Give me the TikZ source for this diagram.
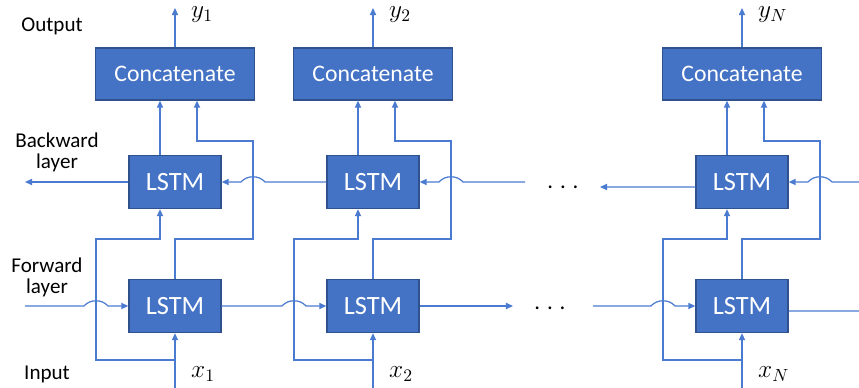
\documentclass[tikz,border=0pt]{standalone}
\usepackage{fontspec}
\setmainfont{Carlito}
\usetikzlibrary{positioning, arrows.meta}

\definecolor{boxblue}{HTML}{4472C4}
\definecolor{boxedge}{HTML}{2F528F}
\definecolor{wireblue}{HTML}{4A7BD0}

\tikzset{
  cell/.style={draw=boxedge, fill=boxblue, text=white, line width=0.8pt, inner sep=0pt},
  lstm/.style={cell, minimum width=1.84cm, minimum height=1.06cm, font=\fontsize{15}{15}\selectfont},
  concat/.style={cell, minimum width=3.18cm, minimum height=1.04cm, font=\fontsize{13.5}{13.5}\selectfont},
  wire/.style={draw=wireblue, line width=0.7pt},
  feed/.style={wire, -{Triangle[length=4pt,width=3.5pt]}},
  lbl/.style={font=\fontsize{12}{12}\selectfont, align=center},
  var/.style={font=\fontsize{14}{14}\selectfont, anchor=west},
}
% small bump where a wire jumps over a vertical one
\newcommand{\hopright}[1]{-- ([xshift=-0.24cm]#1) .. controls +(6,-7) and +(-6,-7) .. ([xshift=0.24cm]#1)}
\newcommand{\hopleft}[1]{-- ([xshift=0.24cm]#1) .. controls +(-6,-7) and +(6,-7) .. ([xshift=-0.24cm]#1)}

\begin{document}
\begin{tikzpicture}[x=0.02cm, y=-0.02cm]
  \useasboundingbox (0,0) rectangle (859,388);

  % row names
  \node[lbl] (outlbl) at (52,26) {Output};
  \node[lbl] (bwlbl) at (57,152) {Backward\\layer};
  \node[lbl] (fwlbl) at (47,277) {Forward\\layer};
  \node[lbl] (inlbl) at (47,374) {Input};

  % one column per time step
  \foreach \i/\cx/\sub in {1/175/1, 2/373/2, 3/742/N} {
    \node[concat] (cat\i) at (\cx,74) {Concatenate};
    \node[lstm] (bw\i) at (\cx,182) {LSTM};
    \node[lstm] (fw\i) at (\cx,306) {LSTM};
    \coordinate (x\i) at (\cx,388);
    \coordinate (sp\i) at (\cx,360);
    \coordinate (y\i) at (\cx,8);
    \coordinate (lb\i) at (\cx-79,360);
    \coordinate (lt\i) at (\cx-79,239);
    \coordinate (rb\i) at (\cx+78,239);
    \coordinate (rt\i) at (\cx+78,141);
    \draw[feed] (x\i) -- (fw\i.south);
    \draw[feed] (sp\i) -- (lb\i) -- (lt\i) -| ([xshift=-0.3cm]bw\i.south);
    \draw[feed] (fw\i.north) |- (rb\i) -- (rt\i) -| ([xshift=0.44cm]cat\i.south);
    \draw[feed] ([xshift=-0.3cm]bw\i.north) -- ([xshift=-0.3cm]cat\i.south);
    \draw[feed] (cat\i.north) -- (y\i);
    \node[var] (yl\i) at (\cx+10,15) {$y_\sub$};
    \node[var] (xl\i) at (\cx+10,374) {$x_\sub$};
  }

  % forward layer
  \coordinate (fin1) at (25,306);
  \coordinate (fout2) at (513,306);
  \coordinate (fin3) at (593,306);
  \coordinate (fout3) at (859,311);
  \draw[feed] (fin1) \hopright{lb1 |- fw1.west} -- (fw1.west);
  \draw[feed] (fw1.east) \hopright{lb2 |- fw2.west} -- (fw2.west);
  \draw[feed] (fw2.east) -- (fout2);
  \draw[feed] (fin3) \hopright{lb3 |- fw3.west} -- (fw3.west);
  \draw[wire] ([yshift=-0.1cm]fw3.east) -- (fout3);

  % backward layer
  \coordinate (bout1) at (25,182);
  \coordinate (bin2) at (525,182);
  \coordinate (bout3) at (600,187);
  \coordinate (bin3) at (859,182);
  \draw[feed] (bw1.west) -- (bout1);
  \draw[feed] (bw2.west) \hopleft{rb1 |- bw1.east} -- (bw1.east);
  \draw[feed] (bin2) \hopleft{rb2 |- bw2.east} -- (bw2.east);
  \draw[feed] ([yshift=-0.1cm]bw3.west) -- (bout3);
  \draw[feed] (bin3) \hopleft{rb3 |- bw3.east} -- (bw3.east);

  \node[anchor=base, font=\fontsize{13}{13}\selectfont] (bdots) at (563,189) {. . .};
  \node[anchor=base, font=\fontsize{13}{13}\selectfont] (fdots) at (550,310) {. . .};
\end{tikzpicture}
\end{document}
